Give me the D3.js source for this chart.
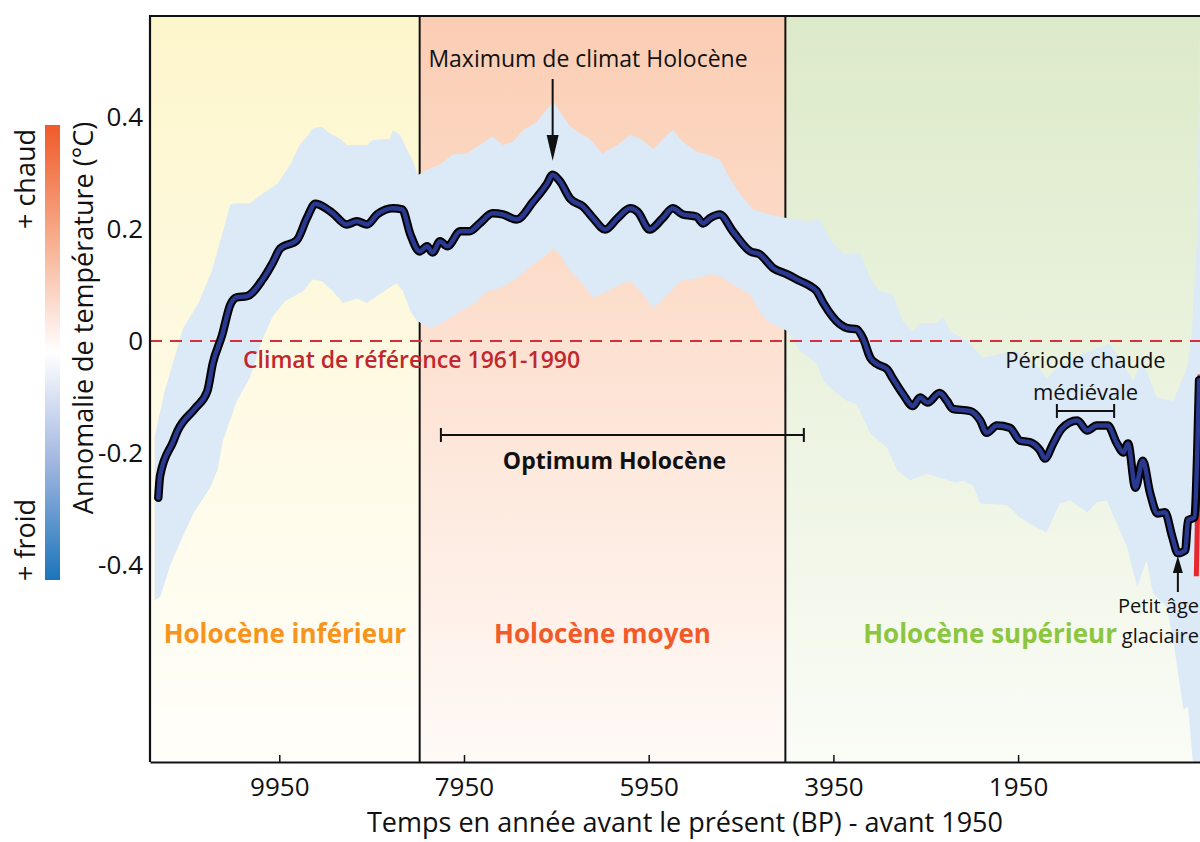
<!DOCTYPE html>
<meta charset="utf-8">
<head>
  <script src="https://d3js.org/d3.v7.min.js"></script>
  <style>
    body { margin: 0; background: #fff; }
    svg text { font-family: "Open Sans", sans-serif; }
  </style>
</head>
<body>
<div id="my_dataviz"></div>
<script>

// ---- data (years BP, temperature anomaly in °C) ----
var curve = [[11260,-0.28],[11240,-0.24],[11100,-0.18],[11050,-0.16],[10860,-0.12],[10730,-0.09],[10670,-0.04],
  [10570,0.01],[10480,0.065],[10410,0.078],[10300,0.08],[10130,0.11],[10020,0.14],[9940,0.165],[9760,0.18],
  [9650,0.22],[9560,0.245],[9510,0.243],[9370,0.228],[9220,0.208],[9110,0.214],[9000,0.208],[8890,0.226],
  [8720,0.237],[8620,0.235],[8530,0.19],[8430,0.16],[8350,0.169],[8290,0.158],[8210,0.178],[8130,0.169],
  [7990,0.196],[7890,0.196],[7780,0.21],[7640,0.228],[7530,0.226],[7380,0.217],[7200,0.249],[7050,0.281],
  [6990,0.297],[6910,0.285],[6800,0.254],[6660,0.24],[6550,0.219],[6420,0.199],[6290,0.219],[6150,0.237],
  [6070,0.231],[5940,0.199],[5800,0.219],[5690,0.237],[5580,0.226],[5430,0.222],[5360,0.21],[5290,0.219],
  [5180,0.226],[5040,0.196],[4850,0.16],[4750,0.155],[4600,0.13],[4450,0.119],[4310,0.107],[4200,0.098],
  [4130,0.089],[4060,0.068],[3880,0.03],[3800,0.023],[3700,0.021],[3630,0.005],[3550,-0.03],[3480,-0.041],
  [3370,-0.05],[3310,-0.066],[3200,-0.094],[3090,-0.116],[3010,-0.101],[2930,-0.11],[2800,-0.093],[2720,-0.107],
  [2660,-0.121],[2470,-0.125],[2360,-0.142],[2290,-0.164],[2180,-0.151],[2040,-0.155],[1930,-0.178],[1820,-0.181],
  [1710,-0.196],[1660,-0.21],[1570,-0.183],[1480,-0.157],[1310,-0.142],[1200,-0.16],[1100,-0.151],[980,-0.151],
  [880,-0.183],[810,-0.199],[760,-0.183],[680,-0.262],[600,-0.214],[520,-0.272],[440,-0.308],[360,-0.306],
  [280,-0.35],[220,-0.379],[140,-0.374],[110,-0.32],[40,-0.315],[10,-0.2],[-10,-0.07]];

var upper = [[11300,-0.17],[11190,-0.089],[10990,0.023],[10830,0.066],[10680,0.125],[10590,0.178],[10480,0.244],
  [10410,0.246],[10270,0.246],[10130,0.263],[9970,0.281],[9830,0.315],[9730,0.35],[9650,0.365],[9590,0.379],
  [9490,0.383],[9400,0.37],[9290,0.361],[9220,0.35],[9000,0.35],[8940,0.359],[8750,0.361],[8720,0.377],
  [8640,0.368],[8570,0.343],[8500,0.32],[8450,0.296],[8350,0.306],[8210,0.315],[8070,0.333],[7920,0.335],
  [7780,0.35],[7640,0.365],[7530,0.35],[7420,0.356],[7310,0.377],[7160,0.391],[7050,0.415],[6980,0.427],
  [6910,0.409],[6800,0.383],[6690,0.37],[6590,0.361],[6450,0.335],[6290,0.35],[6150,0.368],[6040,0.361],
  [5900,0.343],[5750,0.368],[5690,0.377],[5580,0.356],[5430,0.338],[5320,0.333],[5180,0.324],[5070,0.29],
  [4960,0.262],[4820,0.235],[4640,0.226],[4450,0.219],[4240,0.214],[4100,0.217],[3990,0.183],[3850,0.155],
  [3660,0.157],[3550,0.112],[3450,0.089],[3310,0.084],[3200,0.036],[3090,0.018],[3010,0.032],[2830,0.032],
  [2760,0.044],[2690,0.018],[2500,0],[2330,-0.03],[2150,-0.023],[2000,-0.018],[1820,-0.03],[1640,-0.066],
  [1530,-0.048],[1360,-0.03],[1170,-0.018],[960,-0.005],[850,-0.03],[710,-0.071],[600,-0.036],[450,-0.101],
  [270,-0.107],[120,-0.048],[70,0.012],[10,0.19],[-20,0.6],[-60,0.6]];

var lower = [[11300,-0.463],[11240,-0.457],[11130,-0.4],[10990,-0.347],[10880,-0.308],[10700,-0.262],[10620,-0.231],
  [10560,-0.178],[10410,-0.107],[10270,-0.066],[10140,0],[10020,0.044],[9890,0.071],[9690,0.089],[9590,0.11],
  [9490,0.107],[9370,0.089],[9260,0.068],[9110,0.076],[9000,0.068],[8860,0.084],[8680,0.103],[8610,0.089],
  [8530,0.053],[8460,0.036],[8320,0.023],[8210,0.03],[7990,0.053],[7850,0.066],[7700,0.089],[7560,0.094],
  [7380,0.112],[7200,0.137],[7050,0.155],[6990,0.165],[6910,0.155],[6800,0.125],[6690,0.107],[6550,0.077],
  [6400,0.089],[6260,0.101],[6150,0.107],[6040,0.089],[5900,0.059],[5750,0.083],[5610,0.107],[5430,0.112],
  [5290,0.119],[5180,0.116],[5040,0.101],[4850,0.083],[4750,0.053],[4670,0.036],[4450,0.018],[4310,-0.018],
  [4130,-0.041],[4060,-0.071],[3950,-0.089],[3800,-0.107],[3700,-0.112],[3550,-0.165],[3370,-0.19],[3260,-0.231],
  [3120,-0.249],[2940,-0.237],[2800,-0.244],[2610,-0.253],[2550,-0.249],[2440,-0.258],[2360,-0.29],[2070,-0.293],
  [1930,-0.315],[1750,-0.333],[1640,-0.342],[1500,-0.29],[1390,-0.285],[1200,-0.306],[1100,-0.288],[990,-0.285],
  [880,-0.326],[770,-0.368],[660,-0.44],[560,-0.391],[490,-0.45],[340,-0.475],[270,-0.534],[160,-0.658],
  [110,-0.653],[60,-0.747],[10,-0.8],[-60,-0.8]];

// instrumental record (red) at the very end
var instrumental = [[20,-0.42],[-20,-0.06]];

var periods = ["Holocène inférieur", "Holocène moyen", "Holocène supérieur"];
var periodBounds = [11350, 8430, 4470, -50];
var xTicks = [9950, 7950, 5950, 3950, 1950];
var yTicks = [0.4, 0.2, 0, -0.2, -0.4];

// styles
var zoneTop = ["#fdf6cc", "#fbcdb3", "#ddeac9"];
var zoneBottom = ["#fffefa", "#fffaf7", "#fafcf6"];
var periodColors = ["#f7941d", "#f15a29", "#8cc63f"];

// ---- layout ----
var width = 1200, height = 842;
var plotLeft = 150, plotRight = 1200, plotTop = 16, plotBottom = 762;

var svg = d3.select("#my_dataviz")
  .append("svg")
    .attr("width", width)
    .attr("height", height);

var x = d3.scaleLinear().domain([11350, -50]).range([150, 1202.8]);
var y = d3.scaleLinear().domain([-0.4, 0.4]).range([565, 117]);

var defs = svg.append("defs");

defs.append("clipPath").attr("id", "plotclip")
  .append("rect")
    .attr("x", plotLeft).attr("y", plotTop)
    .attr("width", plotRight - plotLeft).attr("height", plotBottom - plotTop);

periods.forEach(function(p, i) {
  var g = defs.append("linearGradient").attr("id", "zone" + i)
    .attr("x1", 0).attr("y1", 0).attr("x2", 0).attr("y2", 1);
  g.append("stop").attr("offset", "0%").attr("stop-color", zoneTop[i]);
  g.append("stop").attr("offset", "100%").attr("stop-color", zoneBottom[i]);
});

var cb = defs.append("linearGradient").attr("id", "colorbar")
  .attr("x1", 0).attr("y1", 0).attr("x2", 0).attr("y2", 1);
[["0%", "#f05a28"], ["25%", "#f7ad8d"], ["50%", "#ffffff"], ["75%", "#9db4df"], ["100%", "#1b75bb"]]
  .forEach(function(s) { cb.append("stop").attr("offset", s[0]).attr("stop-color", s[1]); });

// ---- period backgrounds ----
svg.append("g").selectAll("rect")
  .data(periods)
  .enter()
  .append("rect")
    .attr("x", function(d, i) { return x(periodBounds[i]); })
    .attr("y", plotTop)
    .attr("width", function(d, i) { return Math.min(x(periodBounds[i + 1]), plotRight) - x(periodBounds[i]); })
    .attr("height", plotBottom - plotTop)
    .attr("fill", function(d, i) { return "url(#zone" + i + ")"; });

// period dividers (band is drawn over them)
svg.append("g").selectAll("line")
  .data(periodBounds.slice(1, 3))
  .enter()
  .append("line")
    .attr("x1", function(d) { return x(d); })
    .attr("x2", function(d) { return x(d); })
    .attr("y1", plotTop).attr("y2", plotBottom)
    .attr("stroke", "#111").attr("stroke-width", 2);

var plot = svg.append("g").attr("clip-path", "url(#plotclip)");

var xy = d3.line().x(function(d) { return x(d[0]); }).y(function(d) { return y(d[1]); });

// uncertainty band
var bandPts = upper.concat(lower.slice().reverse());
plot.append("path")
  .attr("d", xy(bandPts) + "Z")
  .attr("fill", "#dce9f6");

// reference line
plot.append("line")
  .attr("x1", plotLeft).attr("x2", plotRight)
  .attr("y1", y(0)).attr("y2", y(0))
  .attr("stroke", "#d3303d").attr("stroke-width", 2)
  .attr("stroke-dasharray", "12,8");

// instrumental record
plot.append("path")
  .datum(instrumental)
  .attr("d", xy)
  .attr("fill", "none").attr("stroke", "#e8262d").attr("stroke-width", 5);

// main reconstruction
var line = d3.line()
  .x(function(d) { return x(d[0]); })
  .y(function(d) { return y(d[1]); })
  .curve(d3.curveMonotoneX);

plot.append("path").datum(curve)
  .attr("d", line).attr("fill", "none")
  .attr("stroke", "#000").attr("stroke-width", 8.5)
  .attr("stroke-linejoin", "round").attr("stroke-linecap", "round");
plot.append("path").datum(curve)
  .attr("d", line).attr("fill", "none")
  .attr("stroke", "#28398f").attr("stroke-width", 4.5)
  .attr("stroke-linejoin", "round").attr("stroke-linecap", "round");

// ---- frame and axes ----
svg.append("path")
  .attr("d", "M" + plotLeft + "," + plotBottom + "V" + plotTop + "H" + plotRight)
  .attr("fill", "none").attr("stroke", "#111").attr("stroke-width", 2.2);

var gx = svg.append("g")
  .attr("transform", "translate(0," + plotBottom + ")")
  .call(d3.axisBottom(x).tickValues(xTicks).tickSize(-7).tickSizeOuter(0).tickFormat(d3.format("d")));
gx.select(".domain").attr("stroke", "#111").attr("stroke-width", 2.2);
gx.selectAll(".tick line").attr("stroke", "#111").attr("stroke-width", 1.5);
gx.selectAll("text")
  .attr("y", 34).attr("dy", 0)
  .style("font-size", "26px").attr("fill", "#111");

var gy = svg.append("g")
  .attr("transform", "translate(" + plotLeft + ",0)")
  .call(d3.axisLeft(y).tickValues(yTicks).tickSize(0).tickPadding(7)
    .tickFormat(function(d) { return d === 0 ? "0" : d.toFixed(1); }));
gy.select(".domain").remove();
gy.selectAll("text").style("font-size", "26px").attr("fill", "#111");

// axis titles
svg.append("text")
  .attr("x", 685).attr("y", 832)
  .attr("text-anchor", "middle")
  .style("font-size", "27px").attr("fill", "#111")
  .text("Temps en année avant le présent (BP) - avant 1950");

svg.append("text")
  .attr("transform", "translate(93,318) rotate(-90)")
  .attr("text-anchor", "middle")
  .style("font-size", "27px").attr("fill", "#111")
  .text("Annomalie de température (°C)");

// colour bar
svg.append("rect")
  .attr("x", 45).attr("y", y(0.4) + 8)
  .attr("width", 15).attr("height", y(-0.4) - y(0.4) + 7)
  .attr("fill", "url(#colorbar)");
svg.append("text")
  .attr("transform", "translate(35,179) rotate(-90)")
  .attr("text-anchor", "middle")
  .style("font-size", "27px").attr("fill", "#111")
  .text("+ chaud");
svg.append("text")
  .attr("transform", "translate(35,540) rotate(-90)")
  .attr("text-anchor", "middle")
  .style("font-size", "27px").attr("fill", "#111")
  .text("+ froid");

// ---- annotations ----
svg.append("g").selectAll("text")
  .data(periods)
  .enter()
  .append("text")
    .attr("x", function(d, i) { return x((periodBounds[i] + periodBounds[i + 1]) / 2) - (i === 2 ? 4 : 0); })
    .attr("y", 643)
    .attr("text-anchor", "middle")
    .style("font-size", "26px").style("font-weight", "bold")
    .attr("fill", function(d, i) { return periodColors[i]; })
    .text(function(d) { return d; });

svg.append("text")
  .attr("x", 243).attr("y", 368)
  .style("font-size", "23px").style("font-weight", "600")
  .attr("fill", "#c1272d")
  .text("Climat de référence 1961-1990");

// maximum
svg.append("text")
  .attr("x", 588).attr("y", 67)
  .attr("text-anchor", "middle")
  .style("font-size", "23px").attr("fill", "#111")
  .text("Maximum de climat Holocène");
var mx = x(6990);
svg.append("line")
  .attr("x1", mx).attr("x2", mx).attr("y1", 79).attr("y2", 140)
  .attr("stroke", "#111").attr("stroke-width", 2);
svg.append("path")
  .attr("d", "M" + (mx - 6) + ",135L" + (mx + 6) + ",135L" + mx + "," + (y(0.297) - 14) + "Z")
  .attr("fill", "#111");

// brackets
function bracket(x0, x1, yy) {
  svg.append("path")
    .attr("d", "M" + x0 + "," + (yy - 7) + "V" + (yy + 7) + "M" + x0 + "," + yy + "H" + x1 +
               "M" + x1 + "," + (yy - 7) + "V" + (yy + 7))
    .attr("fill", "none").attr("stroke", "#111").attr("stroke-width", 2);
}

// optimum
bracket(x(8200), x(4270), y(-0.168));
svg.append("text")
  .attr("x", x(6320)).attr("y", 469)
  .attr("text-anchor", "middle")
  .style("font-size", "23px").style("font-weight", "bold").attr("fill", "#111")
  .text("Optimum Holocène");

// medieval warm period
bracket(x(1530), x(910), y(-0.125));
svg.append("text")
  .attr("x", x(1220)).attr("y", 368)
  .attr("text-anchor", "middle")
  .style("font-size", "22px").attr("fill", "#111")
  .text("Période chaude");
svg.append("text")
  .attr("x", x(1220)).attr("y", 400)
  .attr("text-anchor", "middle")
  .style("font-size", "22px").attr("fill", "#111")
  .text("médiévale");

// little ice age
var px = x(220);
svg.append("line")
  .attr("x1", px).attr("x2", px).attr("y1", 592).attr("y2", 570)
  .attr("stroke", "#111").attr("stroke-width", 2);
svg.append("path")
  .attr("d", "M" + (px - 5) + ",573L" + (px + 5) + ",573L" + px + ",556Z")
  .attr("fill", "#111");
svg.append("text")
  .attr("x", 1199).attr("y", 613)
  .attr("text-anchor", "end")
  .style("font-size", "20px").attr("fill", "#111")
  .text("Petit âge");
svg.append("text")
  .attr("x", 1199).attr("y", 643)
  .attr("text-anchor", "end")
  .style("font-size", "20px").attr("fill", "#111")
  .text("glaciaire");

</script>
</body>
